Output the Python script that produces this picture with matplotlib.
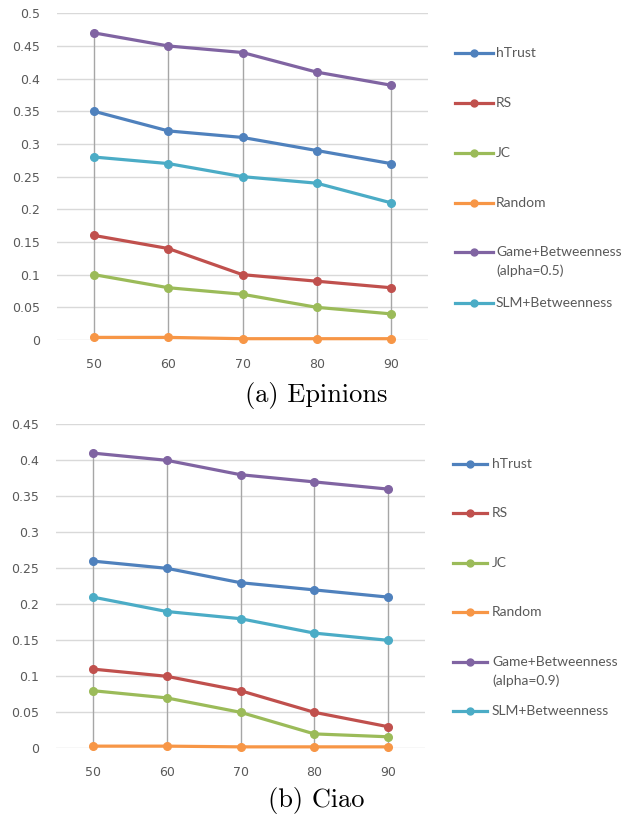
import matplotlib
matplotlib.use("Agg")
import matplotlib.pyplot as plt
from matplotlib.lines import Line2D

# Sample sizes on the x axis
sizes = ["50", "60", "70", "80", "90"]

series_names = ["hTrust", "RS", "JC", "Random", "Game+Betweenness", "SLM+Betweenness"]
colors = ["#4F81BD", "#C0504D", "#9BBB59", "#F79646", "#8064A2", "#4BACC6"]

# Epinions
epinions_htrust = [0.35, 0.32, 0.31, 0.29, 0.27]
epinions_rs = [0.16, 0.14, 0.10, 0.09, 0.08]
epinions_jc = [0.10, 0.08, 0.07, 0.05, 0.04]
epinions_random = [0.004, 0.004, 0.002, 0.002, 0.002]
epinions_game = [0.47, 0.45, 0.44, 0.41, 0.39]
epinions_slm = [0.28, 0.27, 0.25, 0.24, 0.21]

# Ciao
ciao_htrust = [0.26, 0.25, 0.23, 0.22, 0.21]
ciao_rs = [0.11, 0.10, 0.08, 0.05, 0.03]
ciao_jc = [0.08, 0.07, 0.05, 0.02, 0.016]
ciao_random = [0.003, 0.003, 0.002, 0.002, 0.002]
ciao_game = [0.41, 0.40, 0.38, 0.37, 0.36]
ciao_slm = [0.21, 0.19, 0.18, 0.16, 0.15]

epinions_ticks = [0, 0.05, 0.1, 0.15, 0.2, 0.25, 0.3, 0.35, 0.4, 0.45, 0.5]
ciao_ticks = [0, 0.05, 0.1, 0.15, 0.2, 0.25, 0.3, 0.35, 0.4, 0.45]

W, H = 639, 819
fig = plt.figure(figsize=(W / 100, H / 100), dpi=100)

TEXT = "#595959"
LEGEND_FONT = ["Lato", "DejaVu Sans"]


def px_box(left, top, right, bottom):
    return [left / W, 1 - bottom / H, (right - left) / W, (bottom - top) / H]


def draw_panel(rect, data, ticks, alpha_label, legend_rows, legend_x, caption, caption_y):
    ax = fig.add_axes(rect)
    x = list(range(len(sizes)))
    # drop lines from the highest series to zero
    tops = [max(vals) for vals in zip(*data)]
    ax.vlines(x, 0, tops, colors="#A6A6A6", linewidth=1.0, zorder=2)
    for vals, c in zip(data, colors):
        ax.plot(x, vals, color=c, linewidth=2.3, marker="o", markersize=5.5,
                clip_on=False, zorder=3, solid_capstyle="round")
    ax.set_xlim(-0.5, len(sizes) - 0.5)
    ax.set_ylim(0, ticks[-1])
    ax.set_yticks(ticks)
    ax.set_yticklabels([f"{t:g}" for t in ticks])
    ax.set_xticks(x)
    ax.set_xticklabels(sizes)
    ax.yaxis.grid(True, color="#D9D9D9", linewidth=1.0, zorder=0)
    ax.set_axisbelow(True)
    for s in ax.spines.values():
        s.set_visible(False)
    ax.tick_params(axis="both", length=0, labelsize=9, labelcolor=TEXT)
    ax.tick_params(axis="x", pad=13)
    ax.tick_params(axis="y", pad=12)

    # legend entries
    x0, x1, xt = legend_x
    for lab, c, y in zip(series_names, colors, legend_rows):
        yf = 1 - y / H
        fig.add_artist(Line2D([x0 / W, x1 / W], [yf, yf], color=c, linewidth=2.3,
                              transform=fig.transFigure))
        fig.add_artist(Line2D([(x0 + x1) / 2 / W], [yf], color=c, marker="o",
                              markersize=5, transform=fig.transFigure))
        fig.text(xt / W, yf, lab, ha="left", va="center",
                 fontsize=10, color=TEXT, family=LEGEND_FONT)
        if lab.startswith("Game"):
            fig.text(xt / W, 1 - (y + 18.5) / H, "(alpha=" + alpha_label + ")",
                     ha="left", va="center", fontsize=10, color=TEXT,
                     family=LEGEND_FONT)
    fig.text(316 / W, 1 - caption_y / H, caption, ha="center", va="center",
             fontsize=19, family=["cmr10", "DejaVu Serif"])
    return ax


draw_panel(px_box(57, 13.3, 428, 340),
           [epinions_htrust, epinions_rs, epinions_jc, epinions_random, epinions_game, epinions_slm],
           epinions_ticks, "0.5",
           [53, 103, 153, 203, 252, 303], (455, 493, 496),
           "(a) Epinions", 395)

draw_panel(px_box(56, 424.3, 425, 748.3),
           [ciao_htrust, ciao_rs, ciao_jc, ciao_random, ciao_game, ciao_slm],
           ciao_ticks, "0.9",
           [464, 513, 563, 612, 662, 711], (453, 487, 492),
           "(b) Ciao", 800)

fig.savefig("out.png", dpi=100)
